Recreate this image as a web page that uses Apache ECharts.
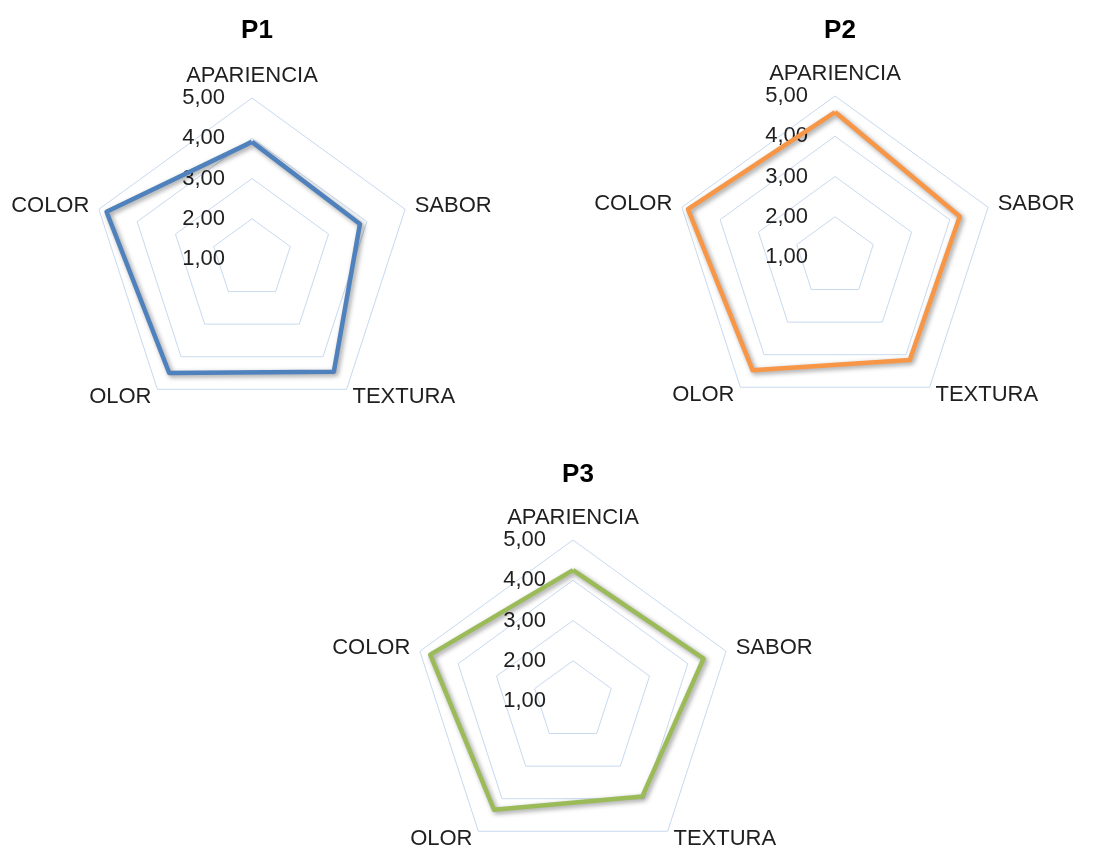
<!DOCTYPE html>
<html>
<head>
<meta charset="utf-8">
<script src="https://cdn.jsdelivr.net/npm/echarts@6/dist/echarts.min.js"></script>
<style>
  html, body { margin: 0; padding: 0; background: #fff; }
  #chart { width: 1097px; height: 852px; }
</style>
</head>
<body>
<div id="chart"></div>
<script>
// categories in clockwise order, starting at the top
const categories = ['APARIENCIA', 'SABOR', 'TEXTURA', 'OLOR', 'COLOR'];
const panelTitles = ['P1', 'P2', 'P3'];
const p1Values = [3.91, 3.82, 4.46, 4.50, 4.80];
const p2Values = [4.60, 4.26, 4.16, 4.48, 4.84];
const p3Values = [4.25, 4.41, 3.93, 4.34, 4.73];
const axisMin = 1;
const axisMax = 5;

const seriesValues = [p1Values, p2Values, p3Values];
const lineColors = ['#4F81BD', '#F79646', '#9BBB59'];
const centers = [[252, 259], [835, 257], [573, 701]];
const radius = 161;
const fontFamily = '"Liberation Sans", Arial, sans-serif';

// echarts lays indicators out counter-clockwise, so reverse everything after the first
const order = [0].concat(categories.slice(1).map((c, i) => categories.length - 1 - i));

const chart = echarts.init(document.getElementById('chart'));

const radars = centers.map(c => ({
  center: c,
  radius: radius,
  startAngle: 90,
  shape: 'polygon',
  splitNumber: 4,
  indicator: order.map((idx, k) => ({
    name: categories[idx],
    min: axisMin,
    max: axisMax,
    axisLabel: k === 0 ? { show: true } : { show: false }
  })),
  axisName: {
    color: '#1f1f1f',
    fontSize: 22,
    fontFamily: fontFamily
  },
  nameGap: 10,
  axisLine: { show: false },
  axisTick: { show: false },
  splitArea: { show: false },
  splitLine: { lineStyle: { color: '#C8D9EF', width: 1 } },
  axisLabel: {
    show: false,
    color: '#1f1f1f',
    fontSize: 22,
    fontFamily: fontFamily,
    margin: 27,
    formatter: v => v.toFixed(2).replace('.', ',')
  }
}));

const titles = centers.map((c, i) => ({
  text: panelTitles[i],
  left: c[0],
  top: i < 2 ? 13 : 457,
  textAlign: 'center',
  textStyle: { fontSize: 26, fontWeight: 'bold', color: '#000', fontFamily: fontFamily }
}));

const series = seriesValues.map((vals, i) => ({
  type: 'radar',
  radarIndex: i,
  symbol: 'none',
  lineStyle: {
    color: lineColors[i],
    width: 4.5,
    shadowColor: 'rgba(0,0,0,0.4)',
    shadowBlur: 5,
    shadowOffsetX: 2,
    shadowOffsetY: 2
  },
  itemStyle: { color: lineColors[i] },
  data: [{ value: order.map(idx => vals[idx]), name: panelTitles[i] }]
}));

chart.setOption({
  backgroundColor: '#fff',
  animation: false,
  title: titles,
  radar: radars,
  series: series
});
</script>
</body>
</html>
